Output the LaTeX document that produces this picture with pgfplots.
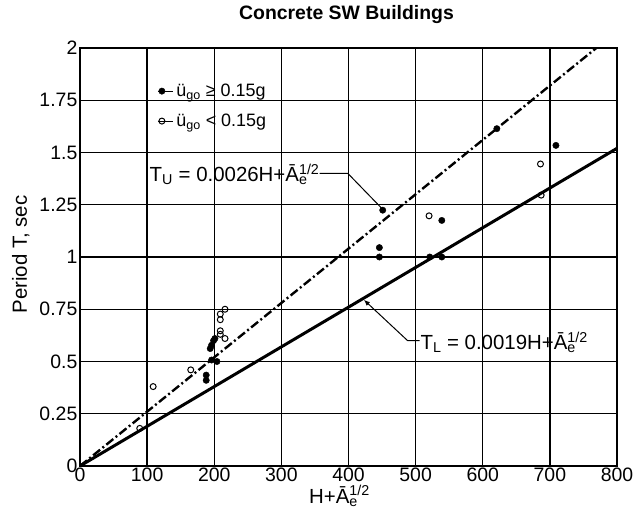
\documentclass[border=0pt]{standalone}
\usepackage{pgfplots}
\pgfplotsset{compat=1.18}
\usetikzlibrary{arrows.meta}
\usepackage{fontspec}
\setmainfont{Liberation Sans}
\begin{document}
\begin{tikzpicture}
\begin{axis}[
  scale only axis,
  width=537bp, height=418bp,
  xmin=0, xmax=800, ymin=0, ymax=2,
  xtick={0,100,...,800},
  xticklabels={0,100,200,300,400,500,600,700,800},
  ytick={0,0.25,0.5,0.75,1,1.25,1.5,1.75,2},
  yticklabels={0,0.25,0.5,0.75,1,1.25,1.5,1.75,2},
  tick label style={font=\fontsize{19.5}{21}\selectfont},
  xticklabel style={inner sep=1pt, yshift=-1pt},
  yticklabel style={inner sep=2.5pt},
  major tick length=0pt,
  grid=major,
  grid style={black, line width=1.3pt},
  axis line style={black, line width=1.6pt},
  title={\bfseries Concrete SW Buildings},
  title style={font=\fontsize{19.5}{21}\selectfont, at={(axis description cs:0.5,1)}, anchor=base, yshift=23bp, xshift=-2bp},
  xlabel={H+Ā\rlap{\textsubscript{e}}\textsuperscript{1/2}},
  ylabel={Period T, sec},
  label style={font=\fontsize{20.5}{22}\selectfont},
  xlabel style={at={(axis description cs:0.5,0)}, anchor=base, yshift=-37bp, xshift=-9bp},
  ylabel style={at={(axis description cs:-0.0987,0.506)}, anchor=base},
  legend style={draw=none, fill=none, inner sep=0pt, at={(axis cs:115,1.722)}, anchor=west,
    font=\fontsize{18}{20}\selectfont, row sep=14pt, column sep=2pt,
    nodes={inner sep=1pt},
    legend cell align=left},
  legend image code/.code={\path (0bp,0) -- (15bp,0); \draw[#1] plot coordinates {(4bp,0bp)};},
]
\coordinate (bl) at (axis cs:0,0);
\coordinate (tr) at (axis cs:800,2);
\addplot[only marks, mark=*, mark size=3.2pt, black] coordinates {
(188,0.41) (188,0.435) (194,0.562) (196,0.578) (199,0.60) (201,0.61)
(196,0.507) (204,0.50) (446,1.0) (446,1.045) (451,1.224)
(521,1.0) (539,1.0) (539,1.175) (621,1.614) (709,1.534)
};
\addlegendentry{ü\textsubscript{go} ≥ 0.15g}
\addplot[only marks, mark=o, mark size=3pt, black, line width=1pt] coordinates {
(89,0.18) (109,0.38) (165,0.46) (216,0.61) (209,0.63) (209,0.647)
(209,0.70) (209,0.727) (216,0.75) (520,1.197) (687,1.296) (686,1.445)
};
\addlegendentry{ü\textsubscript{go} < 0.15g}
\addplot[black, line width=3pt, forget plot] coordinates {(0,0) (800,1.52)};
\addplot[black, line width=2.4pt, dash pattern=on 9pt off 3pt on 2pt off 3pt, forget plot] coordinates {(0,0) (769.2,2)};
\draw[black, line width=1pt] (axis cs:357,1.40) -- (axis cs:399,1.40) -- (axis cs:451,1.228);
\node[anchor=east, font=\fontsize{20.5}{22}\selectfont, inner sep=0pt] at (axis cs:357,1.395)
  {T\textsubscript{U} = 0.0026H+Ā\rlap{\textsubscript{e}}\textsuperscript{1/2}};
\draw[black, line width=1pt, -{Latex[length=6pt,width=5pt]}] (axis cs:506,0.60) -- (axis cs:488,0.60) -- (axis cs:423,0.795);
\node[anchor=west, font=\fontsize{20.5}{22}\selectfont, inner sep=0pt] at (axis cs:507,0.592)
  {T\textsubscript{L} = 0.0019H+Ā\rlap{\textsubscript{e}}\textsuperscript{1/2}};
\end{axis}
\pgfresetboundingbox
\path[use as bounding box] ([shift={(-80bp,-51bp)}]bl) rectangle ([shift={(18bp,48bp)}]tr);
\end{tikzpicture}
\end{document}
